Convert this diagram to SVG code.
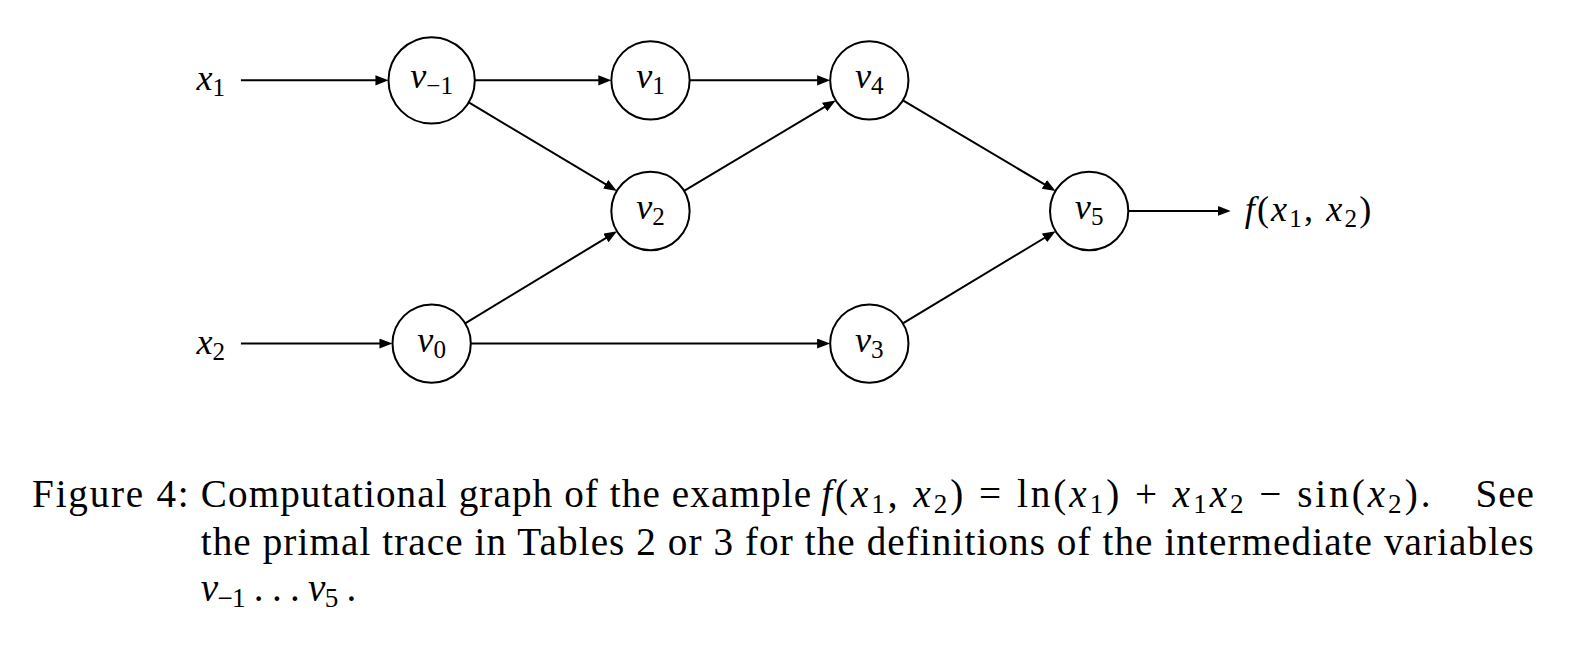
<svg xmlns="http://www.w3.org/2000/svg" width="1574" height="658" viewBox="0 0 1574 658">
<style>
.node circle{fill:#fff;stroke:#000;stroke-width:2}
.lbl{font-family:"Liberation Serif",serif;font-size:36px;text-anchor:middle;fill:#000}
.mi{font-style:italic}
.sb{font-size:25px}
.cap{font-family:"Liberation Serif",serif;font-size:39px;fill:#000}
.cs{font-size:27px}
#edges line{stroke:#000;stroke-width:2;marker-end:url(#ah)}
</style>
<defs>
<marker id="ah" markerUnits="userSpaceOnUse" markerWidth="16" markerHeight="12" refX="9" refY="5" orient="auto">
<path d="M0,0 L13,5 L0,10 z" fill="#000"/>
</marker>
</defs>
<rect width="1574" height="658" fill="#fff"/>
<g transform="scale(1.00383 1.00458)">
<g id="edges">
<line x1="240" y1="80" x2="383" y2="80"/>
<line x1="473" y1="80" x2="605" y2="80"/>
<line x1="687" y1="80" x2="823" y2="80"/>
<line x1="240" y1="342" x2="387" y2="342"/>
<line x1="469" y1="342" x2="823" y2="342"/>
<line x1="1124" y1="210" x2="1222" y2="210"/>
<line x1="467" y1="102" x2="611.1" y2="188"/>
<line x1="463.4" y1="321.8" x2="611.3" y2="232.3"/>
<line x1="681.5" y1="190" x2="829.1" y2="102"/>
<line x1="899.5" y1="99.9" x2="1048.1" y2="188.1"/>
<line x1="899.4" y1="321.9" x2="1048.2" y2="232.2"/>
</g>
<g id="x1"><text class="lbl" x="210" y="90"><tspan class="mi">x</tspan><tspan class="sb" dy="6">1</tspan></text></g>
<g id="x2"><text class="lbl" x="210" y="352"><tspan class="mi">x</tspan><tspan class="sb" dy="6">2</tspan></text></g>
<g id="vm1" class="node"><circle cx="430" cy="80" r="43"/><text class="lbl" x="430" y="88"><tspan class="mi">v</tspan><tspan class="sb" dy="6">−1</tspan></text></g>
<g id="v1" class="node"><circle cx="648" cy="80" r="39"/><text class="lbl" x="648" y="88"><tspan class="mi">v</tspan><tspan class="sb" dy="6">1</tspan></text></g>
<g id="v4" class="node"><circle cx="866" cy="80" r="39"/><text class="lbl" x="866" y="88"><tspan class="mi">v</tspan><tspan class="sb" dy="6">4</tspan></text></g>
<g id="v2" class="node"><circle cx="648" cy="210" r="39"/><text class="lbl" x="648" y="218"><tspan class="mi">v</tspan><tspan class="sb" dy="6">2</tspan></text></g>
<g id="v5" class="node"><circle cx="1085" cy="210" r="39"/><text class="lbl" x="1085" y="218"><tspan class="mi">v</tspan><tspan class="sb" dy="6">5</tspan></text></g>
<g id="v0" class="node"><circle cx="430" cy="342" r="39"/><text class="lbl" x="430" y="350"><tspan class="mi">v</tspan><tspan class="sb" dy="6">0</tspan></text></g>
<g id="v3" class="node"><circle cx="866" cy="342" r="39"/><text class="lbl" x="866" y="350"><tspan class="mi">v</tspan><tspan class="sb" dy="6">3</tspan></text></g>
<g id="out"><text class="lbl" x="1240" y="220" style="text-anchor:start" textLength="126" lengthAdjust="spacing"><tspan class="mi">f</tspan>(<tspan class="mi">x</tspan><tspan class="sb" dy="6">1</tspan><tspan dy="-6">, </tspan><tspan class="mi">x</tspan><tspan class="sb" dy="6">2</tspan><tspan dy="-6">)</tspan></text></g>
<g id="caption">
<text class="cap" x="32" y="505" textLength="156" lengthAdjust="spacing">Figure 4:</text>
<text class="cap" x="200" y="505" textLength="608" lengthAdjust="spacing">Computational graph of the example</text>
<text class="cap" x="818" y="505" textLength="607" lengthAdjust="spacing"><tspan class="mi">f</tspan>(<tspan class="mi">x</tspan><tspan class="cs" dy="6">1</tspan><tspan dy="-6">, </tspan><tspan class="mi">x</tspan><tspan class="cs" dy="6">2</tspan><tspan dy="-6">) = ln(</tspan><tspan class="mi">x</tspan><tspan class="cs" dy="6">1</tspan><tspan dy="-6">) + </tspan><tspan class="mi">x</tspan><tspan class="cs" dy="6">1</tspan><tspan class="mi" dy="-6">x</tspan><tspan class="cs" dy="6">2</tspan><tspan dy="-6"> − sin(</tspan><tspan class="mi">x</tspan><tspan class="cs" dy="6">2</tspan><tspan dy="-6">).</tspan></text>
<text class="cap" x="1470" y="505" textLength="58" lengthAdjust="spacing">See</text>
<text class="cap" x="200" y="552" textLength="1328" lengthAdjust="spacing">the primal trace in Tables 2 or 3 for the definitions of the intermediate variables</text>
<text class="cap" x="200" y="598" textLength="155" lengthAdjust="spacing"><tspan class="mi">v</tspan><tspan class="cs" dy="6">−1</tspan><tspan dy="-6"> . . . </tspan><tspan class="mi">v</tspan><tspan class="cs" dy="6">5</tspan><tspan dy="-6"> .</tspan></text>
</g>
</g>
</svg>
